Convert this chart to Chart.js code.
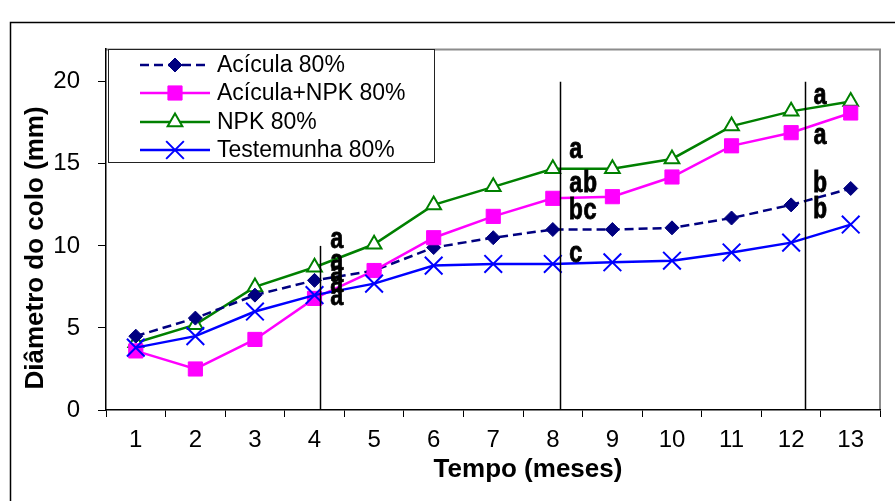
<!DOCTYPE html>
<html><head><meta charset="utf-8">
<script src="https://cdn.jsdelivr.net/npm/chart.js@4.4.0/dist/chart.umd.min.js"></script>
<style>html,body{margin:0;padding:0;background:#fff;}#wrap{width:895px;height:501px;}</style>
</head><body><div id="wrap"><canvas id="c" width="895" height="501"></canvas></div>
<script>
// ---- data ----
const months = ['1','2','3','4','5','6','7','8','9','10','11','12','13'];
const seriesNames = ['Acícula 80%','Acícula+NPK 80%','NPK 80%','Testemunha 80%'];
const acicula    = [4.5, 5.6, 7.0, 7.9, 8.5, 9.9, 10.5, 11.0, 11.0, 11.1, 11.7, 12.5, 13.5];
const aciculaNPK = [3.6, 2.5, 4.3, 6.8, 8.5, 10.5, 11.8, 12.9, 13.0, 14.2, 16.1, 16.9, 18.1];
const npk        = [4.1, 5.2, 7.5, 8.7, 10.1, 12.5, 13.6, 14.7, 14.7, 15.3, 17.3, 18.2, 18.8];
const testemunha = [3.8, 4.5, 6.0, 7.0, 7.7, 8.8, 8.9, 8.9, 9.0, 9.1, 9.6, 10.2, 11.3];
const yTicks = [0, 5, 10, 15, 20];
// significance annotations (month position, value) and letters
const sepMonths = [4.1, 8.12, 12.23];
const sepTops   = [10, 20, 20];
const letterMonths = [4.29, 8.3, 12.4];
const letterSets = [['a','a','a','a','a'], ['a','ab','bc','c'], ['a','a','b','b']];
const letterVals = [[9.9, 8.55, 7.82, 7.21, 6.41], [15.33, 13.26, 11.61, 9.04], [18.63, 16.19, 13.26, 11.73]];
const xTitle = 'Tempo (meses)';
const yTitle = 'Diâmetro do colo (mm)';

const SANS = '"Liberation Sans", Arial, sans-serif';

const datasets = [
  {label: seriesNames[0], data: acicula, borderColor:'#000080', backgroundColor:'#000080',
   borderDash:[9,5], borderWidth:2.5, pointStyle:'rectRot', pointRadius:7, pointBackgroundColor:'#000080',
   pointBorderColor:'#000080', pointBorderWidth:1, order:2},
  {label: seriesNames[1], data: aciculaNPK, borderColor:'#ff00ff', backgroundColor:'#ff00ff',
   borderWidth:2.5, pointStyle:'rect', pointRadius:10, pointBackgroundColor:'#ff00ff',
   pointBorderColor:'#ff00ff', pointBorderWidth:1, order:1},
  {label: seriesNames[2], data: npk, borderColor:'#008000', backgroundColor:'#ffffff',
   borderWidth:2.5, pointStyle:'triangle', pointRadius:8.5, pointBackgroundColor:'#ffffff',
   pointBorderColor:'#008000', pointBorderWidth:2, order:3},
  {label: seriesNames[3], data: testemunha, borderColor:'#0000ff', backgroundColor:'#0000ff',
   borderWidth:2.5, pointStyle:'crossRot', pointRadius:12.5, pointBackgroundColor:'#0000ff',
   pointBorderColor:'#0000ff', pointBorderWidth:2, order:0}
];

const deco = {
  id:'deco',
  beforeDraw(chart){
    const ctx = chart.ctx;
    ctx.save();
    ctx.strokeStyle = '#000'; ctx.lineWidth = 1.5;
    ctx.beginPath(); ctx.moveTo(10.5, 501); ctx.lineTo(10.5, 22.5); ctx.lineTo(895, 22.5); ctx.stroke();
    const a = chart.chartArea;
    ctx.strokeStyle = '#8c8c8c'; ctx.lineWidth = 2;
    ctx.beginPath(); ctx.moveTo(a.left, a.top + 0.5); ctx.lineTo(a.right - 0.5, a.top + 0.5); ctx.lineTo(a.right - 0.5, a.bottom); ctx.stroke();
    ctx.restore();
  },
  afterDatasetsDraw(chart){
    const ctx = chart.ctx, xs = chart.scales.x, ys = chart.scales.y;
    ctx.save();
    ctx.strokeStyle = '#000'; ctx.lineWidth = 1.5;
    sepMonths.forEach((m, i) => {
      const x = Math.round(xs.getPixelForValue(m - 1)) + 0.5;
      ctx.beginPath(); ctx.moveTo(x, ys.getPixelForValue(sepTops[i])); ctx.lineTo(x, ys.getPixelForValue(0)); ctx.stroke();
    });
    ctx.fillStyle = '#000'; ctx.strokeStyle = '#000'; ctx.lineWidth = 0.8;
    ctx.font = 'bold 29px "Liberation Mono", "Courier New", monospace';
    ctx.textBaseline = 'alphabetic'; ctx.textAlign = 'left';
    letterSets.forEach((set, i) => {
      const x = xs.getPixelForValue(letterMonths[i] - 1);
      set.forEach((t, j) => {
        const y = ys.getPixelForValue(letterVals[i][j]);
        ctx.save(); ctx.translate(x - 2, y); ctx.scale(0.82, 1); ctx.fillText(t, 0, 0); ctx.strokeText(t, 0, 0); ctx.restore();
      });
    });
    ctx.restore();
  },
  afterDraw(chart){
    const ctx = chart.ctx;
    ctx.save();
    // axis titles
    ctx.fillStyle = '#000';
    ctx.font = 'bold 26px ' + SANS;
    ctx.textAlign = 'center'; ctx.textBaseline = 'alphabetic';
    ctx.fillText(xTitle, 528, 477);
    ctx.save(); ctx.translate(43, 248); ctx.rotate(-Math.PI/2); ctx.fillText(yTitle, 0, 0); ctx.restore();
    // legend
    const L = 108, T = 49, R = 435, B = 163;
    ctx.fillStyle = '#fff'; ctx.fillRect(L, T, R - L, B - T);
    ctx.strokeStyle = '#222'; ctx.lineWidth = 1;
    ctx.strokeRect(L + 0.5, T + 0.5, R - L - 1, B - T - 1);
    const rows = [65, 93, 122, 150];
    chart.data.datasets.forEach((ds, i) => {
      const y = rows[i];
      ctx.save();
      ctx.strokeStyle = ds.borderColor; ctx.lineWidth = ds.borderWidth;
      ctx.setLineDash(ds.borderDash || []);
      ctx.beginPath(); ctx.moveTo(140, y); ctx.lineTo(210, y); ctx.stroke();
      ctx.setLineDash([]);
      ctx.fillStyle = ds.pointBackgroundColor; ctx.strokeStyle = ds.pointBorderColor;
      ctx.lineWidth = ds.pointBorderWidth;
      Chart.helpers.drawPoint(ctx, {pointStyle: ds.pointStyle, radius: ds.pointRadius, borderWidth: ds.pointBorderWidth, rotation: 0}, 175, y);
      ctx.restore();
      ctx.fillStyle = '#000'; ctx.font = '23px ' + SANS; ctx.textAlign = 'left'; ctx.textBaseline = 'middle';
      ctx.fillText(ds.label, 217, y + 1);
    });
    ctx.restore();
  }
};

new Chart(document.getElementById('c'), {
  type: 'line',
  data: { labels: months, datasets },
  options: {
    responsive: false, devicePixelRatio: 1, animation: false,
    layout: { padding: { left: 0, top: 49, right: 11, bottom: 0 } },
    plugins: { legend: { display: false }, tooltip: { enabled: false } },
    elements: { line: { tension: 0 } },
    scales: {
      x: {
        type: 'category', offset: true,
        grid: { display: true, drawOnChartArea: false, drawTicks: true, tickLength: 7, offset: true, color: '#000', lineWidth: 1 },
        border: { display: true, color: '#000', width: 1.5 },
        ticks: { color: '#000', font: { family: SANS, size: 24 }, padding: 9, maxRotation: 0, autoSkip: false },
        afterFit(s){ s.height = 91; }
      },
      y: {
        min: 0, max: 22,
        grid: { display: true, drawOnChartArea: false, drawTicks: true, tickLength: 8, color: '#000', lineWidth: 1 },
        border: { display: true, color: '#000', width: 1.5 },
        ticks: { color: '#000', font: { family: SANS, size: 24 }, padding: 18 },
        afterBuildTicks(s){ s.ticks = yTicks.map(v => ({ value: v })); },
        afterFit(s){ s.width = 106; }
      }
    }
  },
  plugins: [deco]
});
</script>
</body></html>
